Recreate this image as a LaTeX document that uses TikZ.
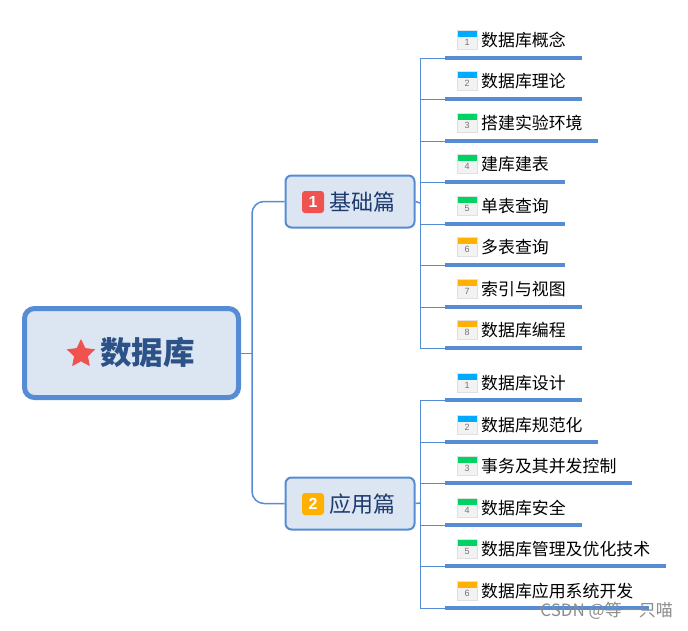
\documentclass[tikz,border=0pt]{standalone}
\usepackage{fontspec}
\setmainfont{Noto Sans CJK SC}
\newfontfamily\numfont{Liberation Sans}
\usetikzlibrary{shapes.geometric, positioning}
\definecolor{mapline}{RGB}{85, 140, 212}
\definecolor{boxfill}{RGB}{220, 229, 242}
\definecolor{titledark}{RGB}{44, 82, 136}
\definecolor{branchdark}{RGB}{28, 58, 110}
\definecolor{starred}{RGB}{240, 82, 80}
\definecolor{tagblue}{RGB}{0, 170, 255}
\definecolor{taggreen}{RGB}{0, 210, 100}
\definecolor{tagorange}{RGB}{255, 176, 0}
\tikzset{
  rootbox/.style={draw=mapline, fill=boxfill, rounded corners=10pt, line width=5pt, minimum width=214pt, minimum height=89pt},
  branchbox/.style={draw=mapline, fill=boxfill, rounded corners=6pt, line width=2pt, minimum width=129pt, minimum height=52pt},
  badge/.style={fill=#1, rounded corners=3pt, text=white, minimum size=22pt, inner sep=0pt, font=\numfont\fontsize{16}{16}\selectfont\bfseries},
  branchtext/.style={text=branchdark, inner sep=0pt, font=\fontsize{22}{24}\selectfont},
  icon/.style={draw=black!12, fill=black!5, minimum width=20pt, minimum height=19pt, inner sep=0pt, text=black!55,
    font=\numfont\fontsize{9}{9}\selectfont, text height=11pt, text depth=0pt,
    path picture={\fill[#1] (path picture bounding box.north west) rectangle ([yshift=3.5pt]path picture bounding box.east);}},
  leaftext/.style={anchor=west, inner sep=0pt, text=black, font=\fontsize{16.9}{18}\selectfont},
  trunk/.style={draw=mapline, line width=1.5pt, rounded corners=12pt},
  twig/.style={draw=mapline, line width=0.9pt},
  leafbar/.style={draw=mapline, line width=4pt}
}
\begin{document}
\begin{tikzpicture}[x=1pt, y=-1pt]
\useasboundingbox (0,0) rectangle (688,630);
% Root
\node[rootbox] (root) at (131.5,353) {};
\node[star, star points=5, star point ratio=2.05, fill=starred, inner sep=0pt, minimum size=30pt] (rootstar) at (81,354) {};
\node[text=titledark, inner sep=0pt, font=\fontsize{31.5}{33}\selectfont\bfseries] (roottext) at (147.5,353) {数据库};

% Branches
\node[branchbox] (basic) at (350,201.5) {};
\node[badge=starred] (basicbadge) at (313,202) {1};
\node[branchtext] (basictext) at (362,202) {基础篇};
\node[branchbox] (apply) at (350,503.5) {};
\node[badge=tagorange] (applybadge) at (313,504) {2};
\node[branchtext] (applytext) at (362,504) {应用篇};

% Trunk
\coordinate (fork) at (252,353);
\draw[twig] (root.east) -- (fork);
\draw[trunk] (fork) |- (basic.west);
\draw[trunk] (fork) |- (apply.west);
\coordinate (basicfork) at (420,203);
\coordinate (applyfork) at (420,503);
\draw[twig, line width=1.5pt] (basic.east) -- (basicfork);
\draw[twig, line width=1.5pt] (apply.east) -- (applyfork);

% Basic leaves
\node[icon=tagblue] (ba1) at (467,40) {1};
\node[leaftext] (bt1) at (481,40) {数据库概念};
\coordinate (bs1) at (445,58); \coordinate (be1) at (582,58);
\draw[leafbar] (bs1) -- (be1);
\draw[twig] (basicfork) |- (bs1);

\node[icon=tagblue] (ba2) at (467,81) {2};
\node[leaftext] (bt2) at (481,81) {数据库理论};
\coordinate (bs2) at (445,99); \coordinate (be2) at (582,99);
\draw[leafbar] (bs2) -- (be2);
\draw[twig] (basicfork) |- (bs2);

\node[icon=taggreen] (ba3) at (467,123) {3};
\node[leaftext] (bt3) at (481,123) {搭建实验环境};
\coordinate (bs3) at (445,141); \coordinate (be3) at (598,141);
\draw[leafbar] (bs3) -- (be3);
\draw[twig] (basicfork) |- (bs3);

\node[icon=taggreen] (ba4) at (467,164) {4};
\node[leaftext] (bt4) at (481,164) {建库建表};
\coordinate (bs4) at (445,182); \coordinate (be4) at (565,182);
\draw[leafbar] (bs4) -- (be4);
\draw[twig] (basicfork) |- (bs4);

\node[icon=taggreen] (ba5) at (467,206) {5};
\node[leaftext] (bt5) at (481,206) {单表查询};
\coordinate (bs5) at (445,224); \coordinate (be5) at (565,224);
\draw[leafbar] (bs5) -- (be5);
\draw[twig] (basicfork) |- (bs5);

\node[icon=tagorange] (ba6) at (467,247) {6};
\node[leaftext] (bt6) at (481,247) {多表查询};
\coordinate (bs6) at (445,265); \coordinate (be6) at (565,265);
\draw[leafbar] (bs6) -- (be6);
\draw[twig] (basicfork) |- (bs6);

\node[icon=tagorange] (ba7) at (467,289) {7};
\node[leaftext] (bt7) at (481,289) {索引与视图};
\coordinate (bs7) at (445,307); \coordinate (be7) at (582,307);
\draw[leafbar] (bs7) -- (be7);
\draw[twig] (basicfork) |- (bs7);

\node[icon=tagorange] (ba8) at (467,330) {8};
\node[leaftext] (bt8) at (481,330) {数据库编程};
\coordinate (bs8) at (445,348); \coordinate (be8) at (582,348);
\draw[leafbar] (bs8) -- (be8);
\draw[twig] (basicfork) |- (bs8);

% Apply leaves
\node[icon=tagblue] (aa1) at (467,383) {1};
\node[leaftext] (at1) at (481,383) {数据库设计};
\coordinate (as1) at (445,400); \coordinate (ae1) at (582,400);
\draw[leafbar] (as1) -- (ae1);
\draw[twig] (applyfork) |- (as1);

\node[icon=tagblue] (aa2) at (467,425) {2};
\node[leaftext] (at2) at (481,425) {数据库规范化};
\coordinate (as2) at (445,442); \coordinate (ae2) at (598,442);
\draw[leafbar] (as2) -- (ae2);
\draw[twig] (applyfork) |- (as2);

\node[icon=taggreen] (aa3) at (467,466) {3};
\node[leaftext] (at3) at (481,466) {事务及其并发控制};
\coordinate (as3) at (445,483); \coordinate (ae3) at (632,483);
\draw[leafbar] (as3) -- (ae3);
\draw[twig] (applyfork) |- (as3);

\node[icon=taggreen] (aa4) at (467,508) {4};
\node[leaftext] (at4) at (481,508) {数据库安全};
\coordinate (as4) at (445,525); \coordinate (ae4) at (582,525);
\draw[leafbar] (as4) -- (ae4);
\draw[twig] (applyfork) |- (as4);

\node[icon=taggreen] (aa5) at (467,549) {5};
\node[leaftext] (at5) at (481,549) {数据库管理及优化技术};
\coordinate (as5) at (445,566); \coordinate (ae5) at (666,566);
\draw[leafbar] (as5) -- (ae5);
\draw[twig] (applyfork) |- (as5);

\node[icon=tagorange] (aa6) at (467,591) {6};
\node[leaftext] (at6) at (481,591) {数据库应用系统开发};
\coordinate (as6) at (445,608); \coordinate (ae6) at (649,608);
\draw[leafbar] (as6) -- (ae6);
\draw[twig] (applyfork) |- (as6);

% Watermark
\node[anchor=east, inner sep=0pt, text=black!45, font=\fontsize{17}{18}\selectfont] (mark) at (673,611) {CSDN @等一只喵};
\end{tikzpicture}
\end{document}
